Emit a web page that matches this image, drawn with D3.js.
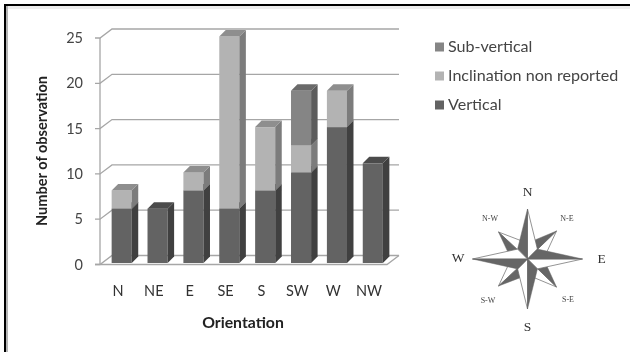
<!DOCTYPE html>
<html>
<head>
<meta charset="utf-8">
<script src="https://cdn.jsdelivr.net/npm/d3@7"></script>
<style>
  html, body { margin: 0; padding: 0; background: #fff; }
  svg { display: block; }
  text { font-family: Lato, sans-serif; }
</style>
</head>
<body>
<div id="chart"></div>
<script>
// data
const orientations = ["N", "NE", "E", "SE", "S", "SW", "W", "NW"];
const vertical = [6, 6, 8, 6, 8, 10, 15, 11];
const nonReported = [2, 0, 2, 19, 7, 3, 4, 0];
const subVertical = [0, 0, 0, 0, 0, 6, 0, 0];
const yTicks = [0, 5, 10, 15, 20, 25];
const legendLabels = ["Sub-vertical", "Inclination non reported", "Vertical"];
const compassMain = ["N", "E", "S", "W"];
const compassDiag = ["N-E", "S-E", "S-W", "N-W"];

const width = 630, height = 352;
const depthX = 12, depthY = 9;      // wall offset of the fake 3d
const barDepthX = 6.5, barDepthY = 6.5;

const svg = d3.select("#chart").append("svg")
    .attr("width", width)
    .attr("height", height);

const defs = svg.append("defs");
defs.append("filter").attr("id", "soft")
    .append("feGaussianBlur").attr("stdDeviation", 0.55);

// page frame
svg.append("rect").attr("x", 4).attr("y", 6).attr("width", 626).attr("height", 3).attr("fill", "#eeeeee");
svg.append("rect").attr("x", 6).attr("y", 6).attr("width", 2).attr("height", 346).attr("fill", "#b5b5b5");
svg.append("rect").attr("x", 4).attr("y", 4).attr("width", 626).attr("height", 2).attr("fill", "#000");
svg.append("rect").attr("x", 4).attr("y", 4).attr("width", 2).attr("height", 348).attr("fill", "#000");

const g = svg.append("g").attr("filter", "url(#soft)");

const x = d3.scaleBand().domain(orientations).range([100, 387]).paddingInner(0.44).paddingOuter(0.22);
const y = d3.scaleLinear().domain([0, 25]).range([264.5, 38]);

// gridlines on the back wall
const grid = g.append("g").attr("stroke", "#a6a6a6").attr("stroke-width", 1.3).attr("fill", "none");
grid.selectAll("path")
    .data(yTicks)
    .enter().append("path")
    .attr("d", d => `M95,${y(d)}H100L${100 + depthX},${y(d) - depthY}H${387 + depthX}`);
grid.append("line").attr("x1", 100).attr("x2", 100).attr("y1", y(25)).attr("y2", y(0));
grid.append("path").attr("d", `M95,${y(0)}H387L${387 + depthX},${y(0) - depthY}`);

// stacked bars
const rows = orientations.map((o, i) => ({ o, vertical: vertical[i], nonReported: nonReported[i], subVertical: subVertical[i] }));
const series = d3.stack().keys(["vertical", "nonReported", "subVertical"])(rows);
const colors = {
  vertical: { front: "#636363", side: "#3f3f3f", top: "#4b4b4b" },
  nonReported: { front: "#b3b3b3", side: "#7b7b7b", top: "#8e8e8e" },
  subVertical: { front: "#858585", side: "#5c5c5c", top: "#6b6b6b" }
};

const lift = 1.5;
const barShift = barDepthX / 2 + 0.5;
const layer = g.selectAll("g.layer")
    .data(series)
    .enter().append("g").attr("class", "layer");

const segs = layer.selectAll("g")
    .data(s => s.map(d => ({ key: s.key, o: d.data.o, y0: d[0], y1: d[1] })).filter(d => d.y1 > d.y0))
    .enter().append("g");

segs.append("rect")
    .attr("x", d => x(d.o) + barShift)
    .attr("y", d => y(d.y1) - lift)
    .attr("width", x.bandwidth())
    .attr("height", d => y(d.y0) - y(d.y1))
    .attr("fill", d => colors[d.key].front);

segs.append("path")
    .attr("fill", d => colors[d.key].side)
    .attr("d", d => {
      const xr = x(d.o) + barShift + x.bandwidth();
      return `M${xr},${y(d.y1) - lift}l${barDepthX},${-barDepthY}V${y(d.y0) - lift - barDepthY}L${xr},${y(d.y0) - lift}Z`;
    });

segs.append("path")
    .attr("fill", d => colors[d.key].top)
    .attr("d", d => {
      const xl = x(d.o) + barShift;
      return `M${xl},${y(d.y1) - lift}l${barDepthX},${-barDepthY}h${x.bandwidth()}l${-barDepthX},${barDepthY}Z`;
    });

// tick labels
g.append("g").selectAll("text")
    .data(yTicks)
    .enter().append("text")
    .attr("x", 83)
    .attr("y", d => y(d) + 5)
    .attr("text-anchor", "end")
    .attr("font-size", 14.5)
    .attr("fill", "#444")
    .text(d => d);

g.append("g").selectAll("text")
    .data(orientations)
    .enter().append("text")
    .attr("x", d => x(d) + x.bandwidth() / 2)
    .attr("y", 295.5)
    .attr("text-anchor", "middle")
    .attr("font-size", 14.5)
    .attr("fill", "#333")
    .text(d => d);

g.append("text")
    .attr("x", 243).attr("y", 327.5)
    .attr("text-anchor", "middle")
    .attr("font-size", 15.8)
    .attr("font-weight", "bold")
    .attr("fill", "#222")
    .text("Orientation");

g.append("text")
    .attr("transform", "translate(47,151) rotate(-90)")
    .attr("text-anchor", "middle")
    .attr("font-size", 14.6)
    .attr("font-weight", "bold")
    .attr("fill", "#222")
    .text("Number of observation");

// legend
const legendColors = [colors.subVertical.front, colors.nonReported.front, colors.vertical.front];
const legend = g.append("g").selectAll("g")
    .data(legendLabels)
    .enter().append("g")
    .attr("transform", (d, i) => `translate(435,${47 + i * 29})`);
legend.append("rect")
    .attr("x", 0).attr("y", -4.5)
    .attr("width", 9).attr("height", 9)
    .attr("fill", (d, i) => legendColors[i]);
legend.append("text")
    .attr("x", 13).attr("y", 5)
    .attr("font-size", 16.1)
    .attr("fill", "#444")
    .text(d => d);

// compass rose
const cx = 527.5, cy = 259;
const rose = g.append("g").attr("transform", `translate(${cx},${cy})`);
const drawRay = (tip, spread, r) => {
  const a = Math.atan2(tip[1], tip[0]);
  const dark = [r * Math.cos(a - spread), r * Math.sin(a - spread)];
  const light = [r * Math.cos(a + spread), r * Math.sin(a + spread)];
  rose.append("polygon").attr("points", [[0, 0], tip, light].join(" "))
      .attr("fill", "#fff").attr("stroke", "#666").attr("stroke-width", 0.7);
  rose.append("polygon").attr("points", [[0, 0], tip, dark].join(" "))
      .attr("fill", "#666").attr("stroke", "#666").attr("stroke-width", 0.5);
};
[[29, -28], [29, 28], [-29, 27], [-29, -27]].forEach(t => drawRay(t, 0.45, 20));
[[0, -50], [55, 0], [0, 50], [-55, 0]].forEach(t => drawRay(t, Math.PI / 4, 14));

const serif = '"Liberation Serif", serif';
const mainPos = [[527.5, 196], [601.5, 263], [527.5, 331], [458, 262]];
g.append("g").selectAll("text")
    .data(compassMain)
    .enter().append("text")
    .attr("x", (d, i) => mainPos[i][0])
    .attr("y", (d, i) => mainPos[i][1])
    .attr("text-anchor", "middle")
    .attr("font-size", 13.5)
    .attr("fill", "#333")
    .style("font-family", serif)
    .text(d => d);

const diagPos = [[567, 221], [568, 302], [488, 303], [490, 221]];
g.append("g").selectAll("text")
    .data(compassDiag)
    .enter().append("text")
    .attr("x", (d, i) => diagPos[i][0])
    .attr("y", (d, i) => diagPos[i][1])
    .attr("text-anchor", "middle")
    .attr("font-size", 8)
    .attr("fill", "#444")
    .style("font-family", serif)
    .text(d => d);
</script>
</body>
</html>
